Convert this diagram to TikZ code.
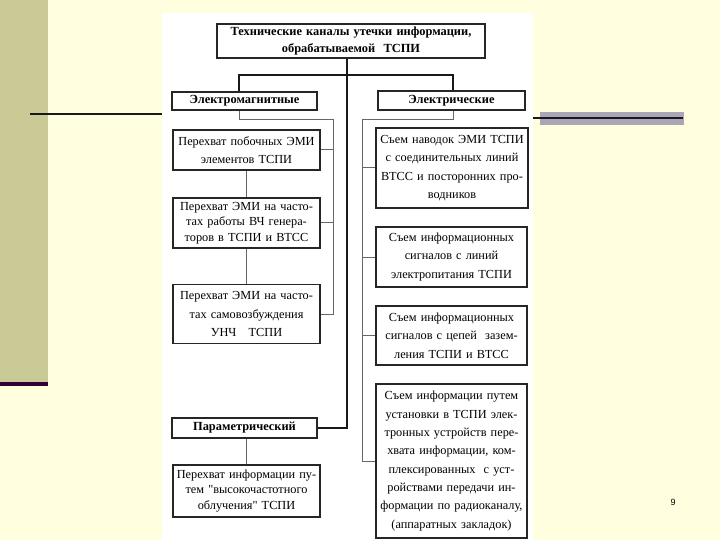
\documentclass[tikz,border=0pt]{standalone}
\usepackage{fontspec}
\setmainfont{Liberation Serif}
\newfontfamily\numfont{Liberation Sans}

\definecolor{slidebg}{RGB}{255,255,224}
\definecolor{bandcol}{RGB}{202,202,150}
\definecolor{bandline}{RGB}{51,0,51}
\definecolor{greybar}{RGB}{170,166,184}

\tikzset{
  box/.style={draw=black!85, line width=1.2pt, fill=white, align=center,
    inner xsep=1pt, inner ysep=0pt, font=\fontsize{12.3}{18.3}\selectfont},
  tightbox/.style={box, font=\fontsize{12.3}{15.6}\selectfont},
  head/.style={box, font=\bfseries\fontsize{12.4}{17}\selectfont},
  tree/.style={line width=1.6pt, black!90},
  bus/.style={line width=1pt, black!60},
}

\begin{document}
\begin{tikzpicture}[x=1pt, y=-1pt]
  \useasboundingbox (0,0) rectangle (720,540);

  % Draw the slide background
  \fill[slidebg] (0,0) rectangle (720,540);
  \fill[bandcol] (0,0) rectangle (48,382);
  \fill[bandline] (0,382) rectangle (48,386);
  \draw[line width=2pt, black!90] (30,114) -- (162,114);
  \fill[greybar] (540,112) rectangle (684,125);
  \draw[line width=2pt, black!90] (533,118) -- (683,118);
  \node[font=\numfont\fontsize{9}{9}\selectfont] (pnum) at (673,502) {9};

  % Draw the scanned sheet
  \fill[white] (162,13) rectangle (533,540);

  % Draw the top of the tree
  \node[head, minimum width=268pt, minimum height=34pt, text width=264pt] (top) at (351,41)
    {Технические каналы утечки информации,\\обрабатываемой\ \ ТСПИ};
  \node[head, minimum width=145pt, minimum height=18pt, text width=141pt] (em) at (244.5,101)
    {Электромагнитные};
  \node[head, minimum width=147pt, minimum height=19pt, text width=143pt] (el) at (451.5,100.5)
    {Электрические};
  \node[head, minimum width=145pt, minimum height=20pt, text width=141pt] (par) at (244.5,428)
    {Параметрический};

  % Draw the left column
  \node[box, minimum width=147pt, minimum height=40pt, text width=143pt] (L1) at (246.5,150)
    {Перехват побочных ЭМИ\\элементов ТСПИ};
  \node[tightbox, minimum width=147pt, minimum height=50pt, text width=143pt] (L2) at (246.5,223)
    {Перехват ЭМИ на часто-\\тах работы ВЧ генера-\\торов в ТСПИ и ВТСС};
  \node[box, minimum width=147pt, minimum height=59pt, text width=143pt] (L3) at (246.5,314)
    {Перехват ЭМИ на часто-\\тах самовозбуждения\\УНЧ\ \ \ ТСПИ};
  \node[tightbox, minimum width=147pt, minimum height=52pt, text width=143pt] (L4) at (246.5,491)
    {Перехват информации пу-\\тем \textquotedbl высокочастотного\\облучения\textquotedbl\ ТСПИ};

  % Draw the right column
  \node[box, minimum width=152pt, minimum height=80pt, text width=148pt] (R1) at (452,168)
    {Съем наводок ЭМИ ТСПИ\\с соединительных линий\\ВТСС и посторонних про-\\водников};
  \node[box, minimum width=151pt, minimum height=60pt, text width=147pt] (R2) at (451.5,257)
    {Съем информационных\\сигналов с линий\\электропитания ТСПИ};
  \node[box, minimum width=151pt, minimum height=59pt, text width=147pt] (R3) at (451.5,335.5)
    {Съем информационных\\сигналов с цепей\ \ зазем-\\ления ТСПИ и ВТСС};
  \node[box, minimum width=151pt, minimum height=154pt, text width=147pt] (R4) at (451.5,461)
    {Съем информации путем\\установки в ТСПИ элек-\\тронных устройств пере-\\хвата информации, ком-\\плексированных\ \ с уст-\\ройствами передачи ин-\\формации по радиоканалу,\\(аппаратных закладок)};

  % Draw the connectors
  \coordinate (trunk) at (347,75);
  \coordinate (barL) at (239,75);
  \coordinate (barR) at (453,75);
  \coordinate (busL) at (333,120);
  \coordinate (busR) at (362,120);

  \draw[tree, line width=2.4pt] (top.south -| trunk) -- (par.east -| trunk) -- (par.east);
  \draw[tree] (em.north -| barL) -- (barL) -- (barR) -- (el.north -| barR);

  \draw[bus] (em.south -| barL) -- (barL |- busL) -- (busL) -- (busL |- L3.east) -- (L3.east);
  \draw[bus] (busL |- L1.east) -- (L1.east);
  \draw[bus] (busL |- L2.east) -- (L2.east);
  \draw[bus] (L1) -- (L2);
  \draw[bus] (L2) -- (L3);

  \draw[bus] (el.south -| barR) -- (barR |- busR) -- (busR) -- (busR |- R4.west) -- (R4.west);
  \draw[bus] (busR |- R1.west) -- (R1.west);
  \draw[bus] (busR |- R2.west) -- (R2.west);
  \draw[bus] (busR |- R3.west) -- (R3.west);

  \draw[bus] (L4.north |- par.south) -- (L4.north);
\end{tikzpicture}
\end{document}
